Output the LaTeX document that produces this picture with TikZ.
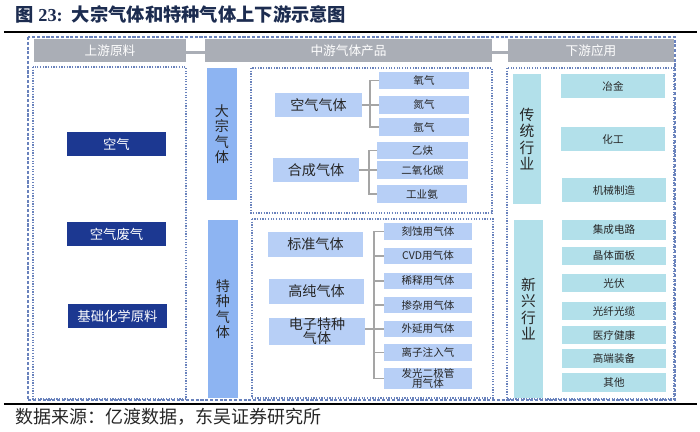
\documentclass[tikz,border=0pt]{standalone}
\usepackage{fontspec}
\setmainfont{Noto Sans CJK SC}
\newfontfamily\numfont{Liberation Serif}
\usepackage{tikz}
\usetikzlibrary{positioning}
\definecolor{hdrgray}{RGB}{170,174,182}
\definecolor{navybox}{RGB}{28,56,145}
\definecolor{midblue}{RGB}{141,180,242}
\definecolor{lightblue}{RGB}{183,207,246}
\definecolor{lightcyan}{RGB}{178,224,234}
\definecolor{frameblue}{RGB}{105,130,188}
\definecolor{titleblue}{RGB}{28,44,80}
\definecolor{linkgray}{RGB}{165,165,165}

\begin{document}
\begin{tikzpicture}[
  x=0.025cm, y=-0.025cm,
  hdr/.style={fill=hdrgray, text=white, minimum height=0.575cm, inner sep=0pt, font=\fontsize{9}{10}\selectfont},
  raw/.style={fill=navybox, text=white, minimum width=2.475cm, minimum height=0.6cm, inner sep=0pt, font=\fontsize{9.5}{10}\selectfont},
  bar/.style={fill=midblue, text=black!85, align=center, inner sep=0pt, minimum width=0.75cm, font=\fontsize{10}{11}\selectfont},
  grp/.style={fill=lightblue, text=black!85, align=center, inner sep=0pt, minimum height=0.6cm, font=\fontsize{10}{10.5}\selectfont},
  gas/.style={fill=lightblue, text=black!85, align=center, inner sep=0pt, minimum width=2.25cm, minimum height=0.44cm, font=\fontsize{7.5}{8}\selectfont},
  ind/.style={fill=lightcyan, text=black!85, align=center, inner sep=0pt, minimum width=0.72cm, font=\fontsize{10.5}{11.5}\selectfont},
  app/.style={fill=lightcyan, text=black!85, inner sep=0pt, minimum width=2.6cm, minimum height=0.46cm, font=\fontsize{7.5}{8}\selectfont},
  frm/.style={draw=frameblue, densely dotted, line width=0.9pt},
  brk/.style={draw=linkgray, line width=1.1pt},
  hlink/.style={draw=hdrgray, line width=1.5pt},
]
\useasboundingbox (0,0) rectangle (700,432);

% title, rules, source
\node[anchor=west, text=titleblue, font=\fontsize{13}{14}\selectfont\bfseries] (title) at (11,14) {图 {\numfont\bfseries 23:}\enspace 大宗气体和特种气体上下游示意图};
\draw[line width=2pt] (4,32) -- (697,32);
\draw[line width=1.4pt] (4,404) -- (697,404);
\node[anchor=west, text=black!85, font=\fontsize{12.8}{14}\selectfont] (src) at (11,417) {数据来源：亿渡数据，东吴证券研究所};

% frames
\draw[draw=frameblue, dash pattern=on 2.2pt off 1.2pt, line width=1pt] (28,37) rectangle (675,400);
\draw[frm] (33,67) rectangle (186,399);
\draw[frm] (251,68) rectangle (492,213);
\draw[frm] (252,219) rectangle (493,398);
\draw[frm] (507,68) rectangle (674,399);

% headers
\node[hdr, minimum width=3.8cm] (hup) at (110,50.5) {上游原料};
\node[hdr, minimum width=7.175cm] (hmid) at (348.5,50.5) {中游气体产品};
\node[hdr, minimum width=4.15cm] (hdown) at (591,50.5) {下游应用};
\draw[hlink] ([yshift=-0.05cm]hup.east) -- ([yshift=-0.05cm]hmid.west);
\draw[hlink] ([yshift=-0.05cm]hmid.east) -- ([yshift=-0.05cm]hdown.west);

% upstream
\node[raw] (air) at (116.5,144.5) {空气};
\node[raw] (waste) at (116.5,234) {空气废气};
\node[raw] (chem) at (117.5,316) {基础化学原料};

% midstream
\node[bar, minimum height=3.3cm] (bulk) at (222,134) {大\\宗\\气\\体};
\node[bar, minimum height=4.45cm] (spec) at (223,309) {特\\种\\气\\体};

\node[grp, minimum width=2.175cm] (kq) at (318.5,105) {空气气体};
\node[grp, minimum width=2.15cm] (hc) at (316,170) {合成气体};
\node[gas] (o2) at (424,80.5) {氧气};
\node[gas] (n2) at (424,105) {氮气};
\node[gas] (ar) at (424,127) {氩气};
\node[gas] (c2) at (422.5,150.5) {乙炔};
\node[gas] (co2) at (422.5,170) {二氧化碳};
\node[gas] (nh3) at (422,194) {工业氨};

\node[grp, minimum width=2.375cm, minimum height=0.625cm] (bz) at (315.5,244.5) {标准气体};
\node[grp, minimum width=2.375cm, minimum height=0.625cm] (gc) at (316.5,291.5) {高纯气体};
\node[grp, minimum width=2.4cm, minimum height=0.625cm, font=\fontsize{10}{10}\selectfont] (dz) at (317,331.5) {电子特种\\气体};
\node[gas, minimum width=2.2cm, minimum height=0.41cm] (e1) at (428,231.5) {刻蚀用气体};
\node[gas, minimum width=2.2cm, minimum height=0.41cm] (e2) at (428,256) {CVD用气体};
\node[gas, minimum width=2.2cm, minimum height=0.41cm] (e3) at (428,281) {稀释用气体};
\node[gas, minimum width=2.2cm, minimum height=0.41cm] (e4) at (428,305) {掺杂用气体};
\node[gas, minimum width=2.2cm, minimum height=0.41cm] (e5) at (428,329) {外延用气体};
\node[gas, minimum width=2.2cm, minimum height=0.41cm] (e6) at (428,352.5) {离子注入气};
\node[gas, minimum width=2.2cm, minimum height=0.54cm, font=\fontsize{7.5}{7.8}\selectfont] (e7) at (428,378.5) {发光二极管\\用气体};

\coordinate (s1) at (370,105);
\draw[brk] (kq.east) -- (s1);
\draw[brk] (o2.west) -| (s1);
\draw[brk] (n2.west) -- (s1);
\draw[brk] (ar.west) -| (s1);
\coordinate (s2) at (369,170);
\draw[brk] (hc.east) -- (s2);
\draw[brk] (c2.west) -| (s2);
\draw[brk] (co2.west) -- (s2);
\draw[brk] (nh3.west) -| (s2);
\coordinate (s3) at (374,329);
\draw[brk] (dz.east |- s3) -- (s3);
\foreach \g in {e1,e2,e3,e4,e5,e6,e7}
  \draw[brk] (\g.west) -| (s3);

% downstream
\node[ind, minimum height=3.25cm] (trad) at (527,139) {传\\统\\行\\业};
\node[ind, minimum height=4.45cm] (new) at (528.5,309) {新\\兴\\行\\业};
\node[app, minimum height=0.6cm] (yj) at (613,86) {冶金};
\node[app, minimum height=0.6cm] (hg) at (613,139) {化工};
\node[app, minimum height=0.6cm] (jx) at (614,190) {机械制造};
\node[app, minimum height=0.5cm] (jc) at (614,230) {集成电路};
\node[app] (jt) at (614,256) {晶体面板};
\node[app] (gf) at (614,283) {光伏};
\node[app] (gq) at (614,311) {光纤光缆};
\node[app] (yl) at (614,335) {医疗健康};
\node[app] (gd) at (614,358.5) {高端装备};
\node[app] (qt) at (614,382.5) {其他};
\end{tikzpicture}
\end{document}
